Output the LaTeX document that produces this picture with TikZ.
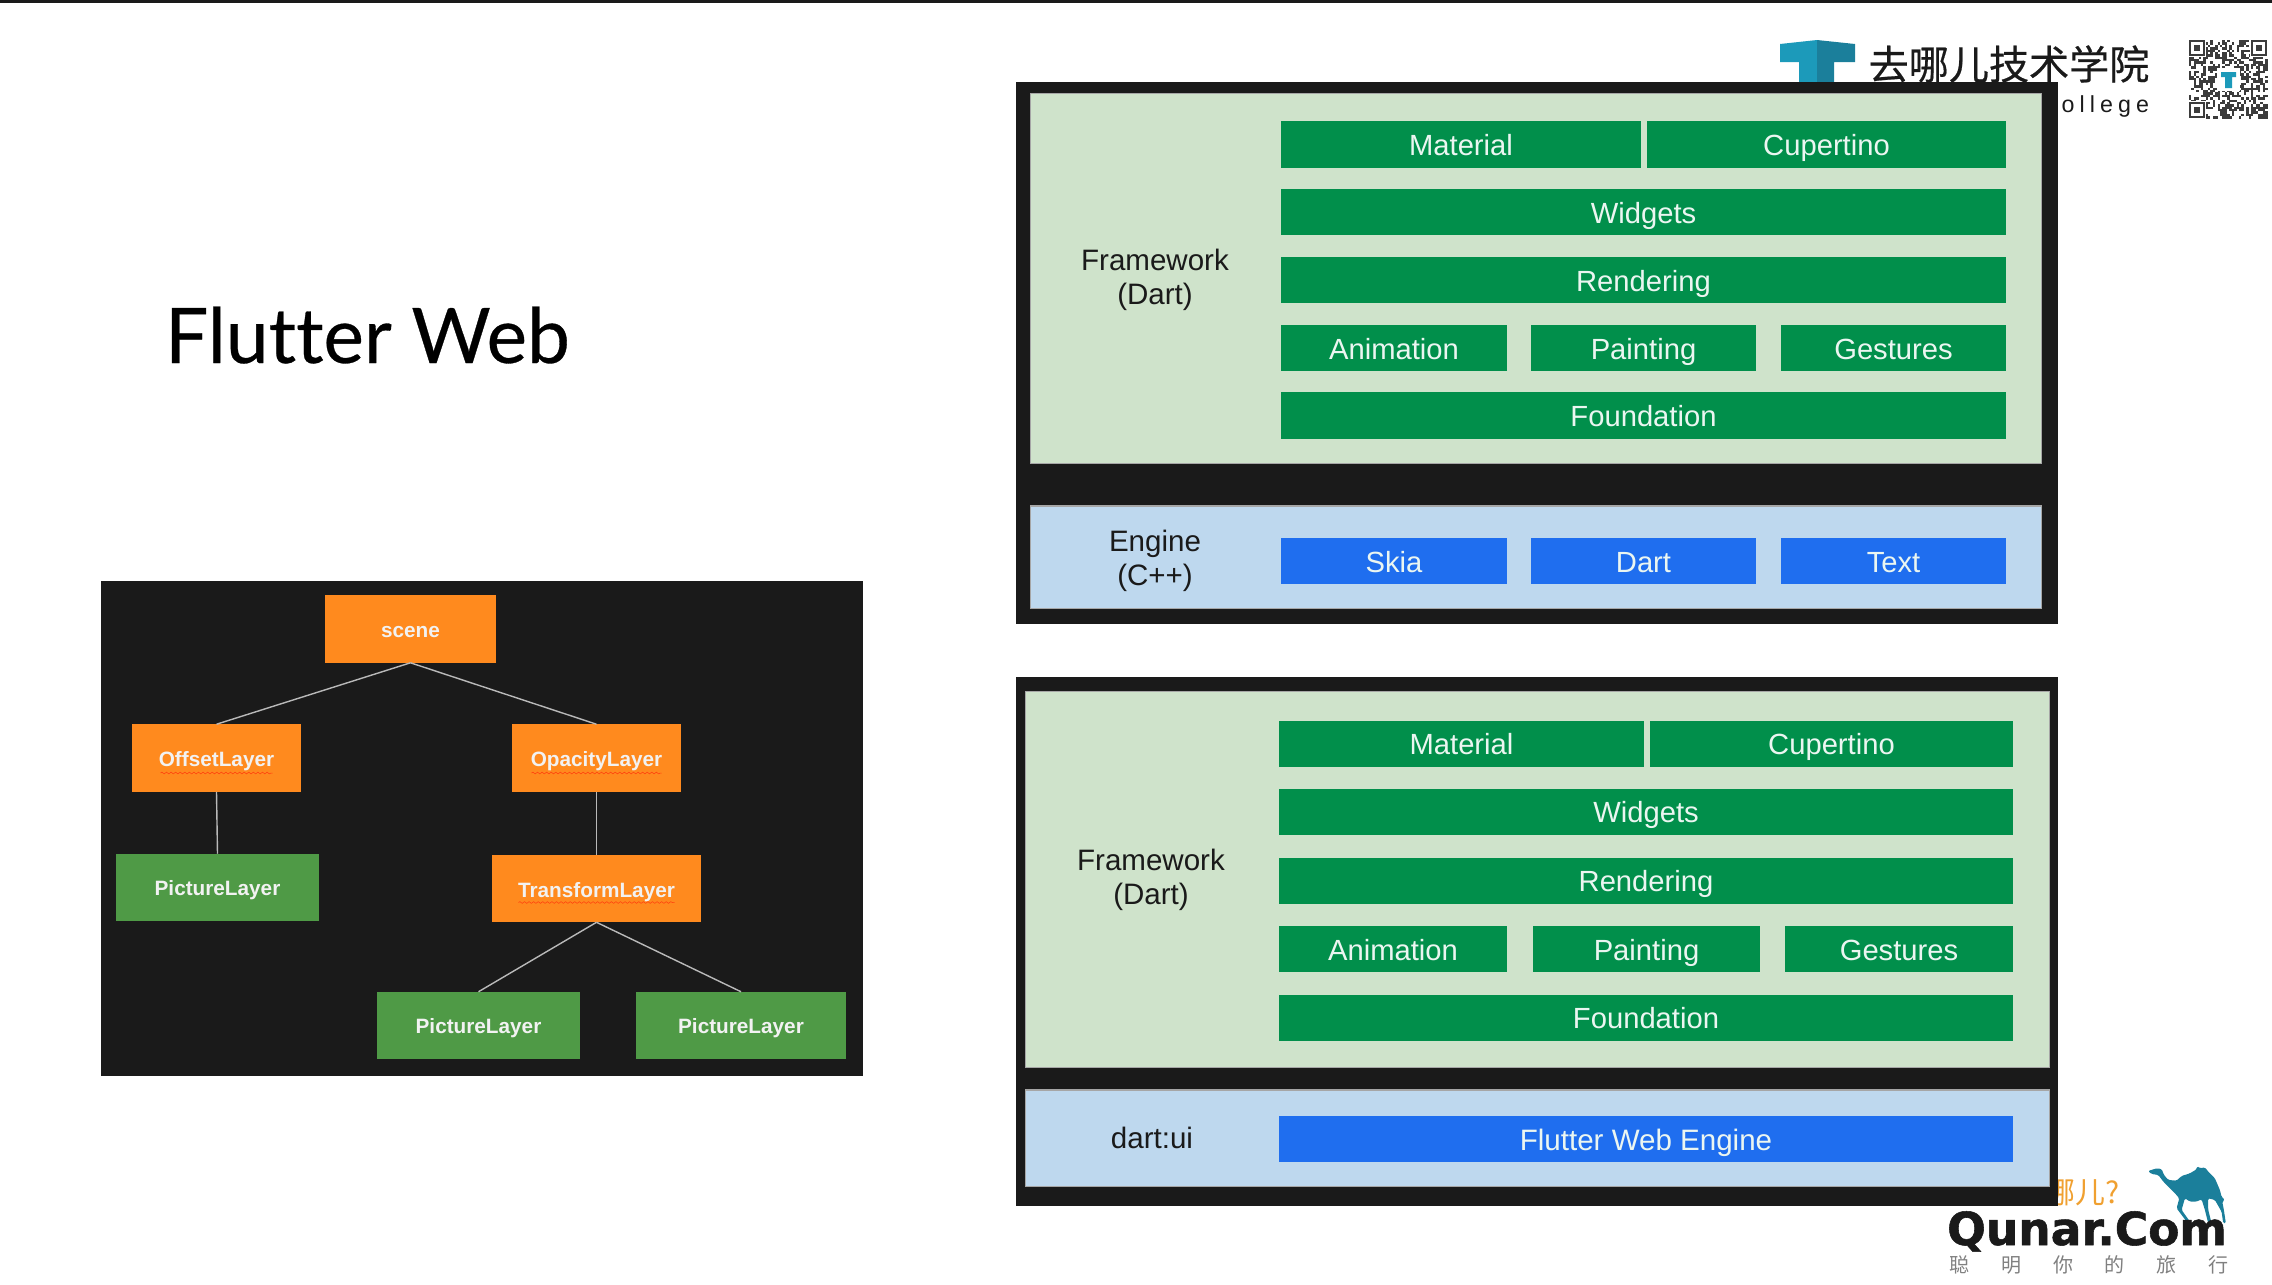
\documentclass[tikz,border=0pt]{standalone}
\usepackage{fontspec}
\setmainfont{Liberation Sans}
\newfontfamily\cjk{Noto Sans CJK SC}
\newfontfamily\cjkheavy[FakeBold=.5]{Noto Sans CJK SC}
\newfontfamily\titlefont[Ligatures=NoCommon, FakeBold=.4]{Lato}
\newfontfamily\brandfont[BoldFeatures={FakeBold=1.2}]{DejaVu Sans}
\usetikzlibrary{decorations.pathmorphing}

\definecolor{ink}{HTML}{1A1A1A}
\definecolor{fwgreen}{HTML}{CFE3CB}
\definecolor{engblue}{HTML}{BED8EE}
\definecolor{bargreen}{HTML}{018F4B}
\definecolor{barblue}{HTML}{1F6EEF}
\definecolor{treeorange}{HTML}{FF8A1E}
\definecolor{treegreen}{HTML}{4F9A46}
\definecolor{teal}{HTML}{1C9ABA}
\definecolor{tealdark}{HTML}{1B7F9B}
\definecolor{brandorange}{HTML}{F0A030}

\tikzset{
  flat/.style={inner sep=0, outer sep=0},
  frame/.style={flat, fill=ink},
  panel/.style={flat, draw=gray!70, line width=.3pt},
  bar/.style={flat, text=white!92!bargreen, font=\fontsize{8.3pt}{9.5pt}\selectfont,
    text height=.27cm, text depth=.05cm},
  gbar/.style={bar, fill=bargreen, minimum height=.46cm},
  bbar/.style={bar, fill=barblue, minimum height=.46cm},
  side/.style={flat, align=center, text=ink, font=\fontsize{8.4pt}{9.5pt}\selectfont},
  treebox/.style={flat, minimum height=.675cm, text=white!95!black,
    font=\fontsize{5.9pt}{7pt}\selectfont\bfseries, text height=.19cm, text depth=.02cm},
  orangebox/.style={treebox, fill=treeorange},
  greenbox/.style={treebox, fill=treegreen, text depth=.04cm},
  link/.style={draw=gray!55!white, line width=.4pt},
  squiggle/.style={draw=red!55!treeorange, line width=.15pt,
    decorate, decoration={snake, amplitude=.25pt, segment length=1.3pt}},
}

\begin{document}
\begin{tikzpicture}[x=.01cm, y=-.01cm]
\useasboundingbox (0,0) rectangle (2272,1284);
\fill[ink] (0,0) rectangle (2272,3);

\node[flat, anchor=base west, font=\fontsize{21.8pt}{24pt}\selectfont\titlefont] (title) at (165,363) {Flutter Web};

% logo top right, the frames cover part of it
\fill[teal] (1780,44) -- (1817,40) -- (1817,90) -- (1799,90) -- (1799,62) -- (1780,62) -- cycle;
\fill[tealdark] (1855,44) -- (1817,40) -- (1817,90) -- (1834,90) -- (1834,62) -- (1855,62) -- cycle;
\node[flat, text=ink, font=\fontsize{11.4pt}{12pt}\selectfont\cjkheavy] (school) at (2009,64) {去哪儿技术学院};
\node[flat, anchor=base east, text=ink, font=\fontsize{6.6pt}{8pt}\selectfont\addfontfeature{LetterSpace=22}] (college) at (2149,112) {ollege};

% qr code
\pgfmathsetseed{42}
\foreach \i in {0,...,32} \foreach \j in {0,...,32} {
  \pgfmathsetmacro\coin{int(round(rnd))}
  \ifnum\coin=1 \fill[ink!85] (2189+\i*2.38,40+\j*2.38) rectangle ++(2.4,2.4); \fi
}
\foreach \fx/\fy in {2189/40, 2251/40, 2189/102} {
  \fill[white] (\fx-1,\fy-1) rectangle ++(18,18);
  \fill[ink!85] (\fx,\fy) rectangle ++(16,16);
  \fill[white] (\fx+2.4,\fy+2.4) rectangle ++(11.2,11.2);
  \fill[ink!85] (\fx+4.8,\fy+4.8) rectangle ++(6.4,6.4);
}
\fill[white] (2217,68) rectangle (2240,91);
\fill[teal] (2221,72) -- (2236,72) -- (2236,77) -- (2232,77) -- (2232,88) -- (2225,88) -- (2225,77) -- (2221,77) -- cycle;

% logo bottom right
\node[flat, anchor=base west, text=brandorange, font=\fontsize{8.5pt}{9pt}\selectfont\cjk] (slogan) at (2016,1203) {去哪儿?};
\begin{scope}[shift={(2140,1160)}, x=.00333cm, y=-.00333cm]
\fill[tealdark, rounded corners=.4pt] (24,33) -- (50,25) -- (65,27) -- (72,45) -- (85,60) -- (110,62) -- (125,48) -- (150,40) -- (170,28) -- (172,18) -- (180,25) -- (195,22) -- (205,35) -- (225,55) -- (240,90) -- (245,110) -- (255,120) -- (247,125) -- (252,150) -- (258,190) -- (250,190) -- (245,155) -- (225,120) -- (205,115) -- (205,150) -- (215,190) -- (205,190) -- (195,150) -- (185,118) -- (170,125) -- (150,125) -- (135,115) -- (125,150) -- (150,185) -- (140,185) -- (110,145) -- (118,115) -- (105,100) -- (90,85) -- (70,65) -- (55,45) -- (35,42) -- cycle;
\end{scope}
\node[flat, anchor=base, text=ink, font=\fontsize{12.95pt}{14pt}\selectfont\brandfont\bfseries] (qunar) at (2087,1245) {Qunar.Com};
\foreach \c [count=\i] in {聪,明,你,的,旅,行} {
  \node[flat, text=gray, font=\fontsize{5.7pt}{6pt}\selectfont\cjk] (motto\i) at ({1960+(\i-1)*51.6},1265) {\c};
}

% tree
\node[frame, minimum width=7.62cm, minimum height=4.95cm] (treeframe) at (482,828.5) {};
\node[orangebox, minimum width=1.70cm] (scene) at (410.5,629) {scene};
\node[orangebox, minimum width=1.69cm] (offset) at (216.5,758) {OffsetLayer};
\node[orangebox, minimum width=1.69cm] (opacity) at (596.5,758) {OpacityLayer};
\node[greenbox, minimum width=2.03cm] (pictureA) at (217.5,887.5) {PictureLayer};
\node[orangebox, minimum width=2.09cm] (transform) at (596.5,888.5) {TransformLayer};
\node[greenbox, minimum width=2.03cm] (pictureB) at (478.5,1025.5) {PictureLayer};
\node[greenbox, minimum width=2.10cm] (pictureC) at (741,1025.5) {PictureLayer};

\draw[link] (scene.south) -- (offset.north);
\draw[link] (scene.south) -- (opacity.north);
\draw[link] (offset.south) -- (pictureA.north);
\draw[link] (opacity.south) -- (transform.north);
\draw[link] (transform.south) -- (pictureB.north);
\draw[link] (transform.south) -- (pictureC.north);

\draw[squiggle] ([shift={(-56,15)}]offset.center) -- ([shift={(56,15)}]offset.center);
\draw[squiggle] ([shift={(-65,15)}]opacity.center) -- ([shift={(65,15)}]opacity.center);
\draw[squiggle] ([shift={(-78,14)}]transform.center) -- ([shift={(78,14)}]transform.center);

% upper stack
\node[frame, minimum width=10.42cm, minimum height=5.42cm] (stackA) at (1537,353) {};
\node[panel, fill=fwgreen, minimum width=10.10cm, minimum height=3.69cm] (frameworkA) at (1536,278.5) {};
\node[panel, fill=engblue, minimum width=10.10cm, minimum height=1.02cm] (engineA) at (1536,557) {};
\node[side] (labelA) at (1155,280) {Framework\\(Dart)};
\node[side] (labelB) at (1155,561) {Engine\\(C++)};
\foreach \nm/\px/\py/\w/\txt in {materialA/1461/144.5/3.60/Material, cupertinoA/1826.5/144.5/3.59/Cupertino,
    widgetsA/1643.5/212/7.25/Widgets, renderingA/1643.5/280/7.25/Rendering,
    animationA/1394/348/2.26/Animation, paintingA/1643.5/348/2.25/Painting, gesturesA/1893.5/348/2.25/Gestures,
    foundationA/1643.5/415.5/7.25/Foundation} {
  \node[gbar, minimum width=\w cm] (\nm) at (\px,\py) {\txt};
}
\foreach \nm/\px/\w/\txt in {skia/1394/2.26/Skia, dartA/1643.5/2.25/Dart, text/1893.5/2.25/Text} {
  \node[bbar, minimum width=\w cm] (\nm) at (\px,561) {\txt};
}

% lower stack
\node[frame, minimum width=10.42cm, minimum height=5.29cm] (stackB) at (1537,941.5) {};
\node[panel, fill=fwgreen, minimum width=10.23cm, minimum height=3.75cm] (frameworkB) at (1537.5,879.5) {};
\node[panel, fill=engblue, minimum width=10.23cm, minimum height=.96cm] (engineB) at (1537.5,1138) {};
\node[side] (labelC) at (1151,880) {Framework\\(Dart)};
\node[side, text height=.28cm, text depth=.05cm] (labelD) at (1152,1137) {dart:ui};
\foreach \nm/\px/\py/\w/\txt in {materialB/1461.5/743.5/3.65/Material, cupertinoB/1831.5/743.5/3.63/Cupertino,
    widgetsB/1646/811.5/7.34/Widgets, renderingB/1646/880.5/7.34/Rendering,
    animationB/1393/949/2.28/Animation, paintingB/1646.5/949/2.27/Painting, gesturesB/1899/949/2.28/Gestures,
    foundationB/1646/1017.5/7.34/Foundation} {
  \node[gbar, minimum width=\w cm] (\nm) at (\px,\py) {\txt};
}
\node[bbar, minimum width=7.34cm, font=\fontsize{8.4pt}{9.5pt}\selectfont] (webengine) at (1646,1139) {Flutter Web Engine};

\end{tikzpicture}
\end{document}
